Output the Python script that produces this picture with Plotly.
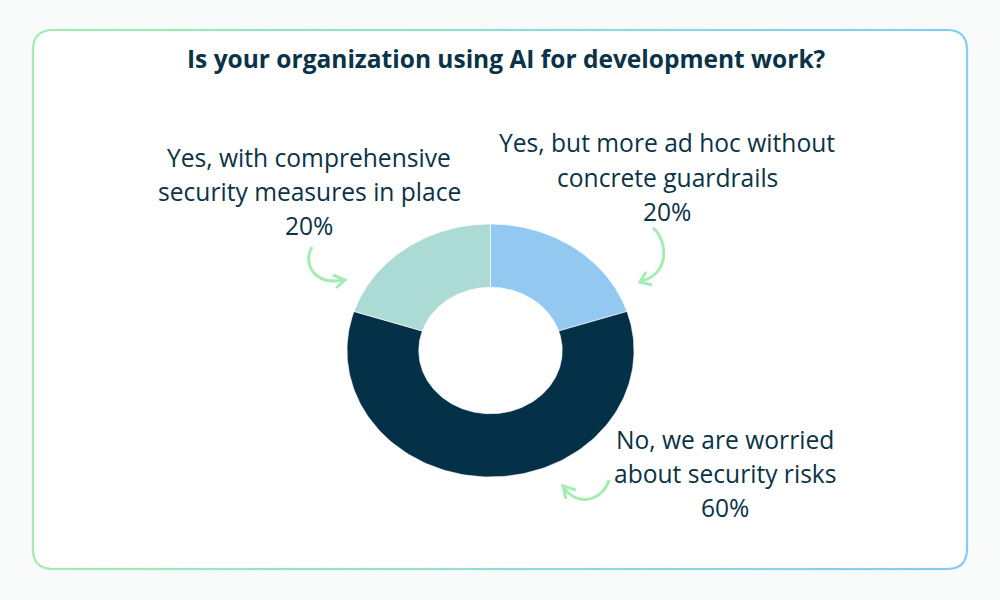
import numpy as np
import plotly.graph_objects as go

# ---------------- data ----------------
title_text = "Is your organization using AI for development work?"
categories = [
    "Yes, but more ad hoc without concrete guardrails",
    "No, we are worried about security risks",
    "Yes, with comprehensive security measures in place",
]
label_lines = [
    ["Yes, but more ad hoc without", "concrete guardrails"],
    ["No, we are worried", "about security risks"],
    ["Yes, with comprehensive", "security measures in place"],
]
values = [20, 60, 20]
colors = ["#93c9f0", "#053148", "#acdad4"]

# ---------------- layout helpers ----------------
W, H = 1000, 600
TXT = "#0b3347"
FONT = "Open Sans"


def px(x):
    return x / W


def py(y):
    return 1 - y / H


fig = go.Figure()

# ---------------- donut (drawn through axis scales) ----------------
total = float(sum(values))
cum = 0.0
hole = 0.5
for cat, v, c in zip(categories, values, colors):
    a0 = np.pi / 2 - 2 * np.pi * cum / total
    a1 = np.pi / 2 - 2 * np.pi * (cum + v) / total
    cum += v
    t = np.linspace(a0, a1, 160)
    xs = np.concatenate([np.cos(t), hole * np.cos(t[::-1]), [np.cos(t[0])]])
    ys = np.concatenate([np.sin(t), hole * np.sin(t[::-1]), [np.sin(t[0])]])
    fig.add_trace(go.Scatter(
        x=xs, y=ys, mode="lines", fill="toself", fillcolor=c,
        line=dict(color="white", width=0.6), name=cat,
        hoverinfo="text", text=f"{cat}: {v}%", showlegend=False,
    ))

# ---------------- card with gradient border ----------------
L, R, T, B, RAD = 33, 967, 30, 569, 20
shapes = []
shapes.append(dict(
    type="path", xref="paper", yref="paper", layer="below",
    path=(f"M {px(L+RAD)},{py(T)} L {px(R-RAD)},{py(T)} "
          f"Q {px(R)},{py(T)} {px(R)},{py(T+RAD)} L {px(R)},{py(B-RAD)} "
          f"Q {px(R)},{py(B)} {px(R-RAD)},{py(B)} L {px(L+RAD)},{py(B)} "
          f"Q {px(L)},{py(B)} {px(L)},{py(B-RAD)} L {px(L)},{py(T+RAD)} "
          f"Q {px(L)},{py(T)} {px(L+RAD)},{py(T)} Z"),
    fillcolor="white", line=dict(width=0),
))

g0 = np.array([0xa3, 0xeb, 0xb0])
g1 = np.array([0x83, 0xcd, 0xf7])


def mix(t):
    c = (g0 * (1 - t) + g1 * t).astype(int)
    return f"rgb({c[0]},{c[1]},{c[2]})"


BW = 2.2
# left side (green) with corners
shapes.append(dict(
    type="path", xref="paper", yref="paper", layer="above",
    path=(f"M {px(L+RAD)},{py(T)} Q {px(L)},{py(T)} {px(L)},{py(T+RAD)} "
          f"L {px(L)},{py(B-RAD)} Q {px(L)},{py(B)} {px(L+RAD)},{py(B)}"),
    line=dict(color=mix(0), width=BW),
))
shapes.append(dict(
    type="path", xref="paper", yref="paper", layer="above",
    path=(f"M {px(R-RAD)},{py(T)} Q {px(R)},{py(T)} {px(R)},{py(T+RAD)} "
          f"L {px(R)},{py(B-RAD)} Q {px(R)},{py(B)} {px(R-RAD)},{py(B)}"),
    line=dict(color=mix(1), width=BW),
))
N = 60
edges = np.linspace(L + RAD, R - RAD, N + 1)
for i in range(N):
    xa, xb = edges[i], edges[i + 1] + 0.6
    t = ((xa + xb) / 2 - L) / (R - L)
    for yy in (T, B):
        shapes.append(dict(
            type="line", xref="paper", yref="paper", layer="above",
            x0=px(xa), x1=px(min(xb, R - RAD)), y0=py(yy), y1=py(yy),
            line=dict(color=mix(t), width=BW),
        ))

# ---------------- curly arrows ----------------
AC = "#a4ecb2"


def pth(cmds):
    out = []
    for c in cmds:
        if isinstance(c, str):
            out.append(c)
        else:
            out.append(f"{px(c[0])},{py(c[1])}")
    return " ".join(out)


arrows = [
    # left label -> mint slice
    ["M", (312, 247), "C", (303, 262), (312, 286), (344, 280)],
    ["M", (333, 275), "L", (345, 280), "L", (336, 288)],
    # top-right label -> blue slice
    ["M", (653, 228), "C", (668, 240), (670, 275), (641, 281)],
    ["M", (646, 272), "L", (640, 282), "L", (652, 285)],
    # bottom label -> navy slice
    ["M", (609, 480), "C", (603, 500), (578, 508), (563, 487)],
    ["M", (576, 490), "L", (563, 486), "L", (566, 499)],
]
for a in arrows:
    shapes.append(dict(
        type="path", xref="paper", yref="paper", layer="above",
        path=pth(a), line=dict(color=AC, width=3),
    ))

# ---------------- text ----------------
annotations = [dict(
    x=px(506), y=py(58), xref="paper", yref="paper", text=f"<b>{title_text}</b>",
    showarrow=False, xanchor="center", yanchor="middle",
    font=dict(family=FONT, size=24.5, color=TXT),
)]
label_pos = [(667, [143, 178, 212]), (725, [439, 473, 507]), (309, [158, 191, 225])]
for lines, v, (cx, ys) in zip(label_lines, values, label_pos):
    for txt, yy in zip(lines + [f"{v}%"], ys):
        annotations.append(dict(
            x=px(cx), y=py(yy), xref="paper", yref="paper", text=txt,
            showarrow=False, xanchor="center", yanchor="middle",
            font=dict(family=FONT, size=24.6, color=TXT),
        ))

fig.update_layout(
    width=W, height=H,
    margin=dict(l=0, r=0, t=0, b=0),
    paper_bgcolor="#f9fbfb", plot_bgcolor="rgba(0,0,0,0)",
    shapes=shapes, annotations=annotations, showlegend=False,
    xaxis=dict(domain=[px(347), px(634)], range=[-1, 1], visible=False, fixedrange=True),
    yaxis=dict(domain=[py(477), py(224)], range=[-1, 1], visible=False, fixedrange=True),
)

fig.write_html("out.html")
